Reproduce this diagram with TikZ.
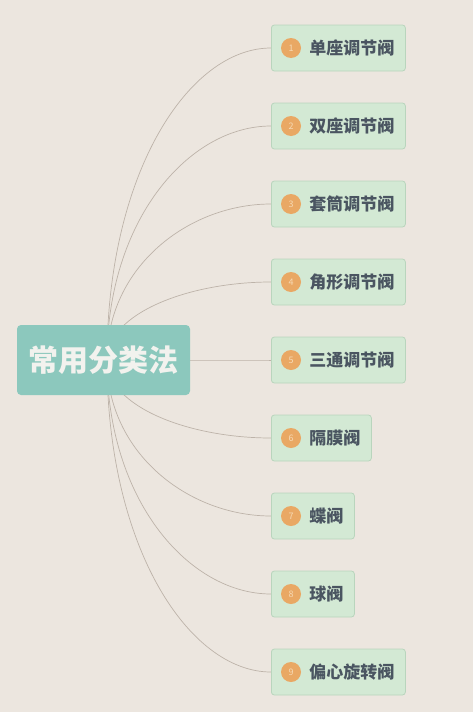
\documentclass[tikz,border=0pt]{standalone}
\usepackage{fontspec}
\newfontfamily\cjk{Noto Sans CJK SC}
\usetikzlibrary{calc,backgrounds}

\definecolor{paper}{HTML}{ECE6DF}
\definecolor{rootfill}{HTML}{8CC8BD}
\definecolor{roottext}{HTML}{F2F2EE}
\definecolor{leaffill}{HTML}{D3E9D4}
\definecolor{leafline}{HTML}{B9D5BD}
\definecolor{leaftext}{HTML}{4A5561}
\definecolor{dotfill}{HTML}{E9A864}
\definecolor{dottext}{HTML}{F6D9B4}
\definecolor{branchcol}{HTML}{BDB3A9}

\begin{document}
\begin{tikzpicture}[
    x=1pt, y=-1pt,
    root/.style={rectangle, rounded corners=4pt, fill=rootfill, minimum width=173pt, minimum height=70pt, text=roottext, font=\cjk\bfseries\fontsize{30}{30}\selectfont},
    leaf/.style={rectangle, rounded corners=3pt, fill=leaffill, draw=leafline, line width=0.8pt, anchor=west, minimum height=46pt, inner xsep=11pt, text=leaftext, font=\cjk\bfseries\fontsize{17}{17}\selectfont},
    numdot/.style={circle, fill=dotfill, minimum size=20pt, inner sep=0pt, text=dottext, font=\cjk\fontsize{9}{9}\selectfont},
    branch/.style={draw=branchcol, line width=0.7pt}
]

% Root
\node[root] (root) at (103.5,360) {常用分类法};
\coordinate (hub) at (107,360);

% Valve types
\foreach \valve [count=\i] in {单座调节阀,双座调节阀,套筒调节阀,角形调节阀,三通调节阀,隔膜阀,蝶阀,球阀,偏心旋转阀} {
    \node[leaf] (v\i) at (271,{48+(\i-1)*78}) {\hspace*{27pt}\valve};
    \node[numdot] (d\i) at ($(v\i.west)+(20,0)$) {\i};
}

% Branches
\begin{scope}[on background layer]
\fill[paper] (0,0) rectangle (473,712);
\foreach \i in {1,...,9}
    \draw[branch] (hub) .. controls ($(hub)!0.6!(hub |- v\i.west)$) and ($(hub |- v\i.west)!0.5!(v\i.west)$) .. (v\i.west);
\end{scope}

\end{tikzpicture}
\end{document}
